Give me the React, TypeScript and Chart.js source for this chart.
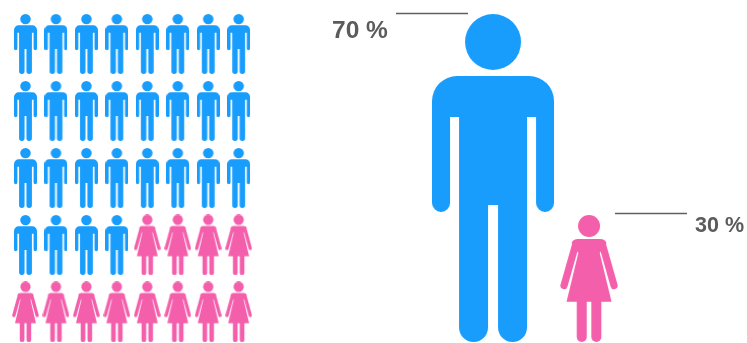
import React, { useEffect, useRef } from "react";
import { Chart, registerables } from "chart.js";

Chart.register(...registerables);

// Share of each group, and how many of the 40 small figures each row holds.
const groups = ["Men", "Women"];
const shares = [70, 30];
const shareLabels = ["70 %", "30 %"];
const columns = [0, 1, 2, 3, 4, 5, 6, 7];
const menPerRow = [8, 8, 8, 4, 0];
const womenPerRow = [0, 0, 0, 4, 8];

// The two large figures, in the same column/row units as the small ones.
const largeColumns = [15.353, 18.506];
const largeRows = [2, 3.5];

const BLUE = "#199DFD";
const PINK = "#F45FAB";
const GREY = "#5B5B5B";

const MAN = { w: 122, h: 328 };
const WOMAN = { w: 58, h: 127 };

function traceMan(ctx: CanvasRenderingContext2D) {
  ctx.beginPath();
  ctx.arc(61, 28, 28, 0, Math.PI * 2);
  ctx.closePath();
  ctx.moveTo(25, 62);
  ctx.lineTo(97, 62);
  ctx.arcTo(122, 62, 122, 87, 25);
  ctx.lineTo(122, 189);
  ctx.arc(113, 189, 9, 0, Math.PI);
  ctx.lineTo(104, 103);
  ctx.lineTo(95, 103);
  ctx.lineTo(95, 313.5);
  ctx.arc(80.5, 313.5, 14.5, 0, Math.PI);
  ctx.lineTo(66, 191);
  ctx.lineTo(56, 191);
  ctx.lineTo(56, 313.5);
  ctx.arc(41.5, 313.5, 14.5, 0, Math.PI);
  ctx.lineTo(27, 103);
  ctx.lineTo(18, 103);
  ctx.lineTo(18, 189);
  ctx.arc(9, 189, 9, 0, Math.PI);
  ctx.lineTo(0, 87);
  ctx.arcTo(0, 62, 25, 62, 25);
  ctx.closePath();
  ctx.fill();
}

function traceWoman(ctx: CanvasRenderingContext2D) {
  ctx.beginPath();
  ctx.arc(29, 11, 11, 0, Math.PI * 2);
  ctx.fill();

  // Shoulders and dress
  ctx.beginPath();
  ctx.moveTo(18, 24);
  ctx.lineTo(40, 24);
  ctx.quadraticCurveTo(45, 24, 46.5, 28);
  ctx.lineTo(39.7, 38);
  ctx.lineTo(51.5, 86.7);
  ctx.lineTo(6.5, 86.7);
  ctx.lineTo(18.3, 38);
  ctx.lineTo(11.5, 28);
  ctx.quadraticCurveTo(13, 24, 18, 24);
  ctx.closePath();
  ctx.fill();

  // Legs
  for (const [a, b] of [[16.7, 26.7], [31.3, 41.3]]) {
    ctx.beginPath();
    ctx.moveTo(a, 84);
    ctx.lineTo(b, 84);
    ctx.lineTo(b, 122);
    ctx.arc((a + b) / 2, 122, (b - a) / 2, 0, Math.PI);
    ctx.closePath();
    ctx.fill();
  }

  // Arms
  ctx.lineWidth = 7.2;
  ctx.lineCap = "round";
  for (const [from, to] of [[15.5, 4], [42.5, 54]]) {
    ctx.beginPath();
    ctx.moveTo(from, 30);
    ctx.lineTo(to, 70.5);
    ctx.stroke();
  }
}

function figure(
  trace: (ctx: CanvasRenderingContext2D) => void,
  box: { w: number; h: number },
  width: number,
  height: number,
  color: string
) {
  const sprite = document.createElement("canvas");
  sprite.width = width;
  sprite.height = height;
  const ctx = sprite.getContext("2d")!;
  ctx.scale(width / box.w, height / box.h);
  ctx.fillStyle = color;
  ctx.strokeStyle = color;
  trace(ctx);
  return sprite;
}

function cells(perRow: number[], startsAfter: number[]) {
  const points: { x: number; y: number }[] = [];
  perRow.forEach((count, row) => {
    columns.slice(startsAfter[row], startsAfter[row] + count).forEach((col) => {
      points.push({ x: col, y: row });
    });
  });
  return points;
}

// Leader line and percentage beside each large figure.
const shareCallouts = {
  id: "shareCallouts",
  afterDatasetsDraw(chart: Chart) {
    const { ctx, scales } = chart;
    const layout = [
      { line: [-97, -25], lineY: -164.5, text: -161, base: -140, font: 'bold 24.5px "Liberation Sans"' },
      { line: [26, 98], lineY: -65, text: 106, base: -46, font: 'bold 21.5px "Liberation Sans"' },
    ];
    ctx.save();
    layout.forEach((spot, i) => {
      const cx = scales.x.getPixelForValue(largeColumns[i]);
      const cy = scales.y.getPixelForValue(largeRows[i]);
      ctx.strokeStyle = "#5F5F5F";
      ctx.lineWidth = 1.3;
      ctx.beginPath();
      ctx.moveTo(cx + spot.line[0], cy + spot.lineY);
      ctx.lineTo(cx + spot.line[1], cy + spot.lineY);
      ctx.stroke();
      ctx.fillStyle = GREY;
      ctx.font = spot.font;
      ctx.textAlign = "left";
      ctx.textBaseline = "alphabetic";
      ctx.fillText(shareLabels[i], cx + spot.text, cy + spot.base);
    });
    ctx.restore();
  },
};

export default function App() {
  const canvasRef = useRef<HTMLCanvasElement>(null);

  useEffect(() => {
    document.body.style.margin = "0";
    document.body.style.background = "#ffffff";

    const chart = new Chart(canvasRef.current!, {
      type: "scatter",
      data: {
        datasets: [
          {
            label: groups[0],
            data: cells(menPerRow, [0, 0, 0, 0, 0]),
            pointStyle: figure(traceMan, MAN, 23, 60, BLUE),
            pointRadius: 2,
          },
          {
            label: groups[1],
            data: cells(womenPerRow, [0, 0, 0, 4, 0]),
            pointStyle: figure(traceWoman, WOMAN, 27, 61, PINK),
            pointRadius: 2,
          },
          {
            label: `${groups[0]} ${shares[0]}`,
            data: [{ x: largeColumns[0], y: largeRows[0] }],
            pointStyle: figure(traceMan, MAN, MAN.w, MAN.h, BLUE),
            pointRadius: 2,
          },
          {
            label: `${groups[1]} ${shares[1]}`,
            data: [{ x: largeColumns[1], y: largeRows[1] }],
            pointStyle: figure(traceWoman, WOMAN, WOMAN.w, WOMAN.h, PINK),
            pointRadius: 2,
          },
        ],
      },
      options: {
        animation: false,
        responsive: false,
        layout: { padding: 0, autoPadding: false },
        plugins: { legend: { display: false }, tooltip: { enabled: false } },
        scales: {
          x: { type: "linear", display: false, bounds: "data", min: -0.8374, max: 23.694 },
          y: { type: "linear", display: false, bounds: "data", reverse: true, min: -0.6567, max: 4.4627 },
        },
      },
      plugins: [shareCallouts],
    });
    return () => chart.destroy();
  }, []);

  return <canvas ref={canvasRef} width={747} height={343} style={{ display: "block" }} />;
}
